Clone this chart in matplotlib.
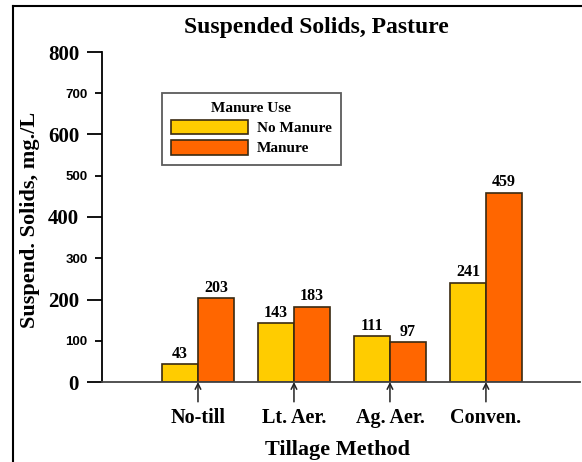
import numpy as np
import matplotlib.pyplot as plt
from matplotlib.lines import Line2D

# data
methods = ["No-till", "Lt. Aer.", "Ag. Aer.", "Conven."]
no_manure = [43, 143, 111, 241]
manure = [203, 183, 97, 459]
major_ticks = [0, 200, 400, 600, 800]
minor_ticks = [100, 300, 500, 700]

yellow = "#FFCC00"
orange = "#FF6600"
edge = "#3a2a12"
serif = ["Liberation Serif", "DejaVu Serif"]

fig = plt.figure(figsize=(5.82, 4.62), dpi=100)
ax = fig.add_axes([102 / 582, 1 - 382 / 462, 478 / 582, 330 / 462])

x = np.arange(1, len(methods) + 1)
w = 0.375
b1 = ax.bar(x - w / 2, no_manure, w, color=yellow, edgecolor=edge, linewidth=1.2,
            label="No Manure")
b2 = ax.bar(x + w / 2, manure, w, color=orange, edgecolor=edge, linewidth=1.2,
            label="Manure")

for bars, vals in [(b1, no_manure), (b2, manure)]:
    for r, v in zip(bars, vals):
        ax.text(r.get_x() + r.get_width() / 2, v + 6, str(v), ha="center", va="bottom",
                family=serif, fontweight="bold", fontsize=11.5)

ax.set_xlim(0, 4.98)
ax.set_ylim(0, 800)

ax.spines["top"].set_visible(False)
ax.spines["right"].set_visible(False)
ax.spines["left"].set_linewidth(1.3)
ax.spines["bottom"].set_linewidth(1.3)
ax.spines["bottom"].set_color("#444444")

ax.set_yticks(major_ticks)
ax.set_yticklabels([str(t) for t in major_ticks], family=serif, fontweight="bold", fontsize=15)
ax.set_yticks(minor_ticks, minor=True)
ax.set_yticklabels([str(t) for t in minor_ticks], minor=True, family="Liberation Sans",
                   fontweight="bold", fontsize=9.5)
ax.tick_params(axis="y", which="major", length=11, width=1.3, pad=5.5)
ax.tick_params(axis="y", which="minor", length=5, width=1.3, pad=5.5)
ax.set_xticks([])

# arrows and category labels below the axis
for xi, name in zip(x, methods):
    ax.annotate("", xy=(xi, 0), xycoords="data",
                xytext=(xi, -48), textcoords="data",
                arrowprops=dict(arrowstyle="->", color="#222222", lw=1.1,
                                shrinkA=0, shrinkB=0),
                annotation_clip=False)
    ax.text(xi, -88, name, ha="center", va="center", family=serif,
            fontweight="bold", fontsize=14.5, clip_on=False)

ax.set_ylabel("Suspend. Solids, mg./L", family=serif, fontweight="bold", fontsize=16)
ax.yaxis.set_label_coords((40 - 102) / 478, 0.49)
fig.text(337 / 582, 1 - 450 / 462, "Tillage Method", ha="center", va="center",
         family=serif, fontweight="bold", fontsize=16)
fig.text(316 / 582, 1 - 28 / 462, "Suspended Solids, Pasture", ha="center", va="center",
         family=serif, fontweight="bold", fontsize=17)

leg = ax.legend(title="Manure Use", loc="upper left",
                bbox_to_anchor=((162 - 102) / 478, (382 - 93) / 330),
                borderaxespad=0, frameon=True, fancybox=False, edgecolor="#333333",
                prop={"family": serif, "weight": "bold", "size": 11},
                handlelength=5.0, handleheight=1.1, handletextpad=0.6,
                labelspacing=0.3, borderpad=0.6)
leg.get_title().set_fontfamily(serif)
leg.get_title().set_fontweight("bold")
leg.get_title().set_fontsize(11)
leg.get_frame().set_linewidth(1.3)

# frame lines around the image (left and top only)
fig.add_artist(Line2D([13 / 582, 13 / 582], [0, 1 - 6 / 462], color="black", lw=1.5,
                      transform=fig.transFigure))
fig.add_artist(Line2D([13 / 582, 1], [1 - 6 / 462, 1 - 6 / 462], color="black", lw=1.5,
                      transform=fig.transFigure))

fig.savefig("out.png", dpi=100)
